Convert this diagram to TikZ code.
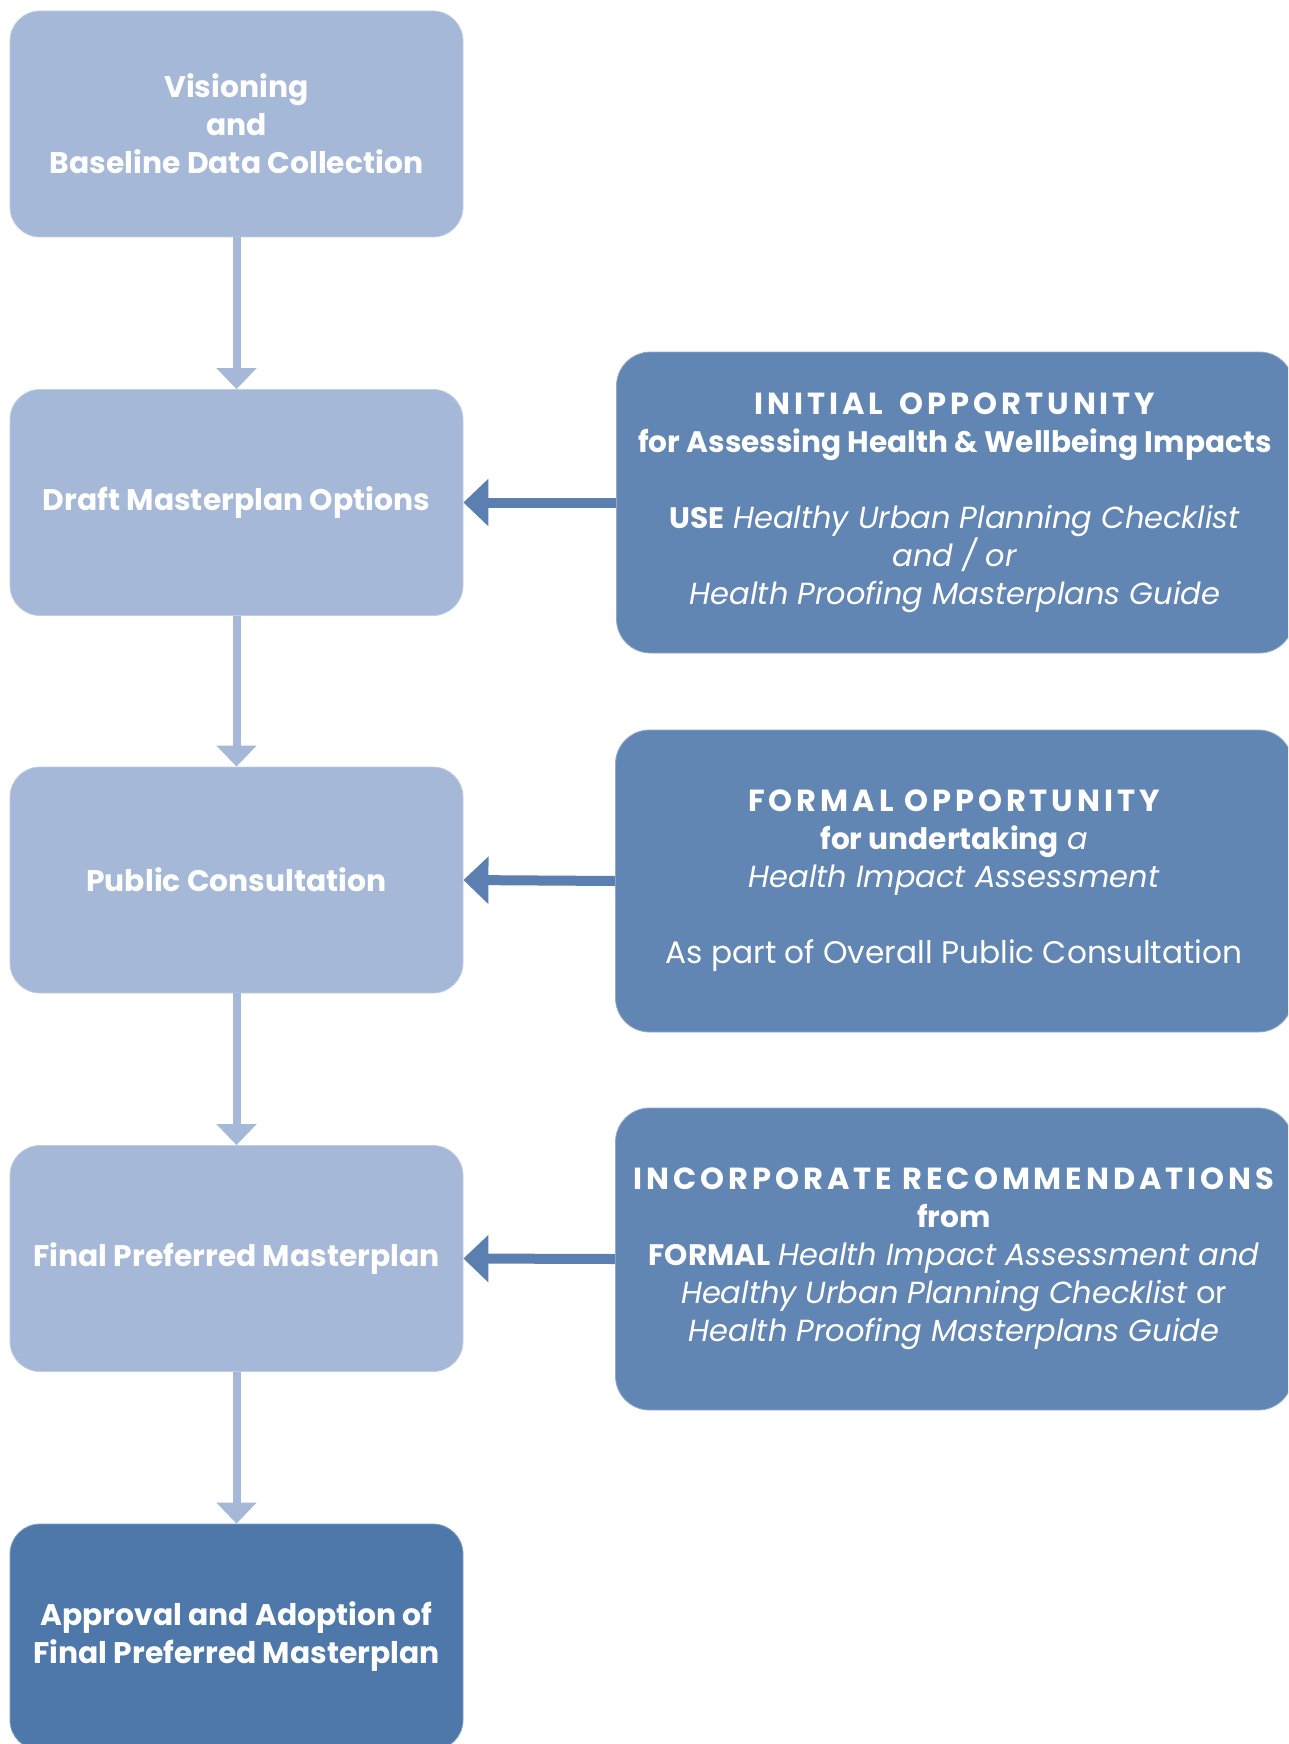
\documentclass[tikz,border=0pt]{standalone}
\usepackage{fontspec}
\setmainfont{Poppins}
\newfontfamily\headfont[LetterSpace=13]{Poppins}
\usetikzlibrary{arrows.meta}
\definecolor{stepfill}{HTML}{A6B8D7}
\definecolor{notefill}{HTML}{6286B4}
\definecolor{finalfill}{HTML}{4E78AA}
\definecolor{sidearrow}{HTML}{5A7FB0}
\newcommand{\spacedcaps}[1]{{\headfont\bfseries #1}}
\newcommand{\boldpart}[1]{{\fontsize{29.6}{38}\selectfont\bfseries #1}}
\newcommand{\plainpart}[1]{{\fontsize{31.2}{38}\selectfont #1}}
\begin{document}
\begin{tikzpicture}[x=1pt,y=-1pt,
  txt/.style={text=white, align=center, font=\fontsize{30.5}{38}\selectfont},
  stepbox/.style={txt, font=\fontsize{29.8}{38}\selectfont\bfseries, fill=stepfill, draw=stepfill!70!white, line width=0.8pt,
    rounded corners=30pt, minimum width=453pt, minimum height=226pt, inner sep=0pt},
  finalbox/.style={stepbox, fill=finalfill, draw=finalfill!70!white},
  notebox/.style={txt, fill=notefill, draw=notefill!70!white, line width=0.8pt,
    rounded corners=34pt, minimum width=677pt, minimum height=301pt, inner sep=0pt},
  down/.style={draw=stepfill, line width=8pt, -{Triangle[width=39pt,length=21pt]}},
  side/.style={draw=sidearrow, line width=10pt, -{Triangle[width=46pt,length=25pt]}}
]
\useasboundingbox (0,0) rectangle (1288,1744);
\clip (0,0) rectangle (1288,1744);

% main sequence of planning steps
\node[stepbox] (v1) at (236.5,124) {Visioning\\and\\Baseline Data Collection};
\node[stepbox] (v2) at (236.5,502.5) {Draft Masterplan Options};
\node[stepbox] (v3) at (236.5,880) {Public Consultation};
\node[stepbox] (v4) at (236.5,1258.5) {Final Preferred Masterplan};
\node[finalbox] (v5) at (236.5,1637) {Approval and Adoption of\\Final Preferred Masterplan};

% health assessment opportunities
\node[notebox] (r1) at (955,502.5) {\spacedcaps{INITIAL\hspace{6pt} OPPORTUNITY}\\
  \boldpart{for Assessing Health \& Wellbeing Impacts}\\[38pt]
  \boldpart{USE} \textit{Healthy Urban Planning Checklist}\\
  \textit{and / or}\\
  \textit{Health Proofing Masterplans Guide}};
\node[notebox, minimum height=302pt] (r2) at (954,881) {\spacedcaps{FORMAL OPPORTUNITY}\\
  \boldpart{for undertaking} \textit{a}\\
  \textit{Health Impact Assessment}\\[38pt]
  \plainpart{As part of Overall Public Consultation}};
\node[notebox, minimum height=302pt] (r3) at (954,1259) {\spacedcaps{INCORPORATE RECOMMENDATIONS}\\
  \boldpart{from}\\
  \boldpart{FORMAL} \textit{Health Impact Assessment and}\\
  \textit{Healthy Urban Planning Checklist} or\\
  \textit{Health Proofing Masterplans Guide}};

% connectors
\draw[down] (v1.south) -- (v2.north);
\draw[down] (v2.south) -- (v3.north);
\draw[down] (v3.south) -- (v4.north);
\draw[down] (v4.south) -- (v5.north);
\draw[side] (r1.west) -- (v2.east);
\draw[side] (r2.west) -- (v3.east);
\draw[side] (r3.west) -- (v4.east);
\end{tikzpicture}
\end{document}
